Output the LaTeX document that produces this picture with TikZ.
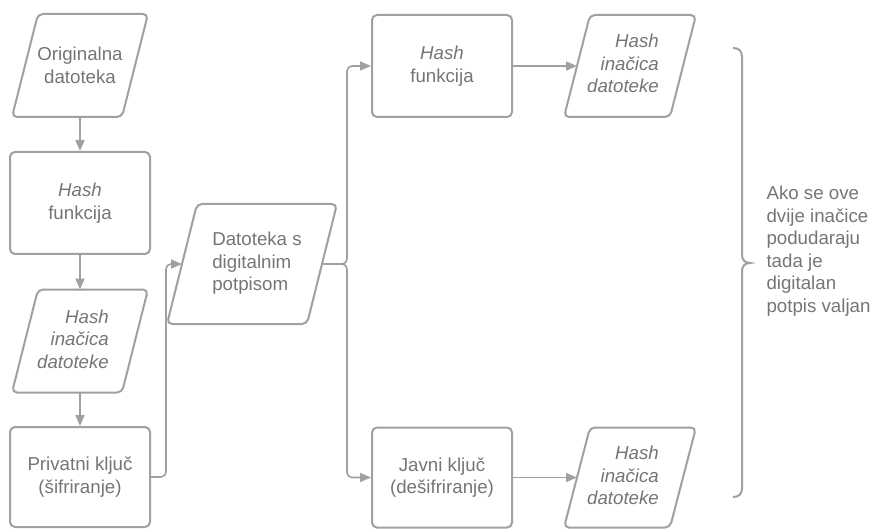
\documentclass[tikz,border=0pt]{standalone}
\usepackage{fontspec}
\setmainfont{Liberation Sans}
\usetikzlibrary{arrows.meta,calc}
\definecolor{linec}{RGB}{160,160,160}
\definecolor{textc}{RGB}{117,117,117}
\newcommand{\drawpara}[4]{%
  \draw[shp] ($(#1.center)+(-#2+#4,-#3)$) -- ($(#1.center)+(#2+#4,-#3)$) -- ($(#1.center)+(#2-#4,#3)$) -- ($(#1.center)+(-#2-#4,#3)$) -- cycle;}
\newcommand{\hashtxt}{\begin{tabular}{@{}r@{\hspace{14pt}}}\textit{Hash}\\\textit{inačica}\\\textit{datoteke}\end{tabular}}
\begin{document}
\begin{tikzpicture}[x=1pt,y=-1pt,
  every node/.style={text=textc, font=\fontsize{18.7pt}{22.5pt}\selectfont},
  box/.style={draw=linec, line width=2pt, rounded corners=5pt, minimum width=140pt, minimum height=102pt, align=center, inner sep=0pt},
  para/.style={draw=none, inner sep=0pt, outer sep=0pt, align=center},
  shp/.style={draw=linec, line width=2pt, rounded corners=5pt},
  brc/.style={draw=linec, line width=2pt},
  conn/.style={draw=linec, line width=1.6pt, -{Triangle[length=11pt,width=9pt]}, rounded corners=5pt}]
\useasboundingbox (0,0) rectangle (872,529);

\node[para, minimum width=110pt, minimum height=103pt] (p1) at (80,65.5) {Originalna\\datoteka};
\node[box] (b2) at (80,203) {\textit{Hash}\\funkcija};
\node[para, minimum width=110pt, minimum height=103pt] (p3) at (80,341) {\hashtxt};
\node[box, minimum height=100pt] (b4) at (80,477) {Privatni ključ\\(šifriranje)};
\node[para, minimum width=140pt, minimum height=120pt] (p5) at (252,264) {\begin{tabular}{@{\hspace{10pt}}l@{}}Datoteka s\\digitalnim\\potpisom\end{tabular}};
\node[box] (b6) at (442,66) {\textit{Hash}\\funkcija};
\node[para, minimum width=106pt, minimum height=102pt] (p7) at (630,66) {\hashtxt};
\node[box, minimum height=100pt] (b8) at (442,477.5) {Javni ključ\\(dešifriranje)};
\node[para, minimum width=106pt, minimum height=100pt] (p9) at (630,477.5) {\hashtxt};
\node[anchor=west, align=left] (note) at (763,251) {Ako se ove\\dvije inačice\\podudaraju\\tada je\\digitalan\\potpis valjan};

\drawpara{p1}{55}{51.5}{13}
\drawpara{p3}{55}{51.5}{13}
\drawpara{p5}{70}{60}{15}
\drawpara{p7}{53}{51}{13}
\drawpara{p9}{53}{50}{13}

\draw[conn] (p1.south) -- (b2.north);
\draw[conn] (b2.south) -- (p3.north);
\draw[conn] (p3.south) -- (b4.north);
\draw[conn] (b4.east) -- ++(15,0) |- (p5.west);
\coordinate (split) at ($(p5.east)+(25,0)$);
\draw[conn] (p5.east) -- (split) |- (b6.west);
\draw[conn] (p5.east) -- (split) |- (b8.west);
\draw[conn] (b6.east) -- (p7.west);
\draw[conn] (b8.east) -- (p9.west);

\draw[brc] (733,48) .. controls (739,48) and (742,51) .. (742,57) -- (742,255)
  .. controls (742,260) and (745,263) .. (750,263)
  .. controls (745,263) and (742,266) .. (742,271) -- (742,488)
  .. controls (742,494) and (739,497) .. (733,497);
\end{tikzpicture}
\end{document}
